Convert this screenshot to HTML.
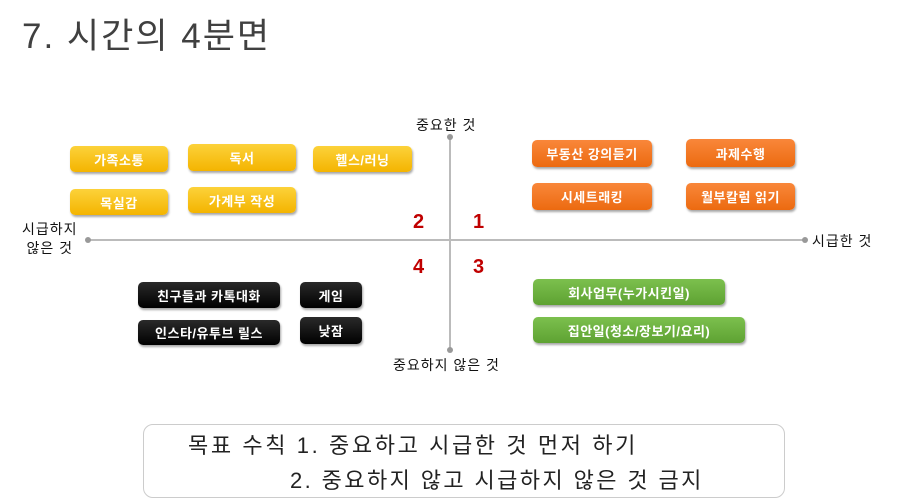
<!DOCTYPE html>
<html><head><meta charset="utf-8"><style>
body{margin:0;width:899px;height:503px;background:#fff;position:relative;overflow:hidden;font-family:"Liberation Sans","Noto Sans CJK KR",sans-serif;}
.a{position:absolute;white-space:nowrap;}
.b{position:absolute;border-radius:5px;color:#fff;font-weight:bold;font-size:13px;letter-spacing:0.5px;display:flex;align-items:center;justify-content:center;box-shadow:1px 2px 2px rgba(0,0,0,0.35);white-space:nowrap;}
.y{background:linear-gradient(#fcd23a,#f4b400);}
.o{background:linear-gradient(#f9873a,#ec6a10);}
.g{background:linear-gradient(#7cc04e,#5ea232);}
.k{background:linear-gradient(#2a2a2a,#000);}
.n{position:absolute;color:#c00000;font-weight:bold;font-size:20px;}
.l{position:absolute;font-size:14px;letter-spacing:1px;color:#111;white-space:nowrap;}
</style></head><body>
<div class="a" style="left:22px;top:8px;font-size:35px;letter-spacing:2px;color:#404040;">7. 시간의 4분면</div>

<div class="a" style="left:449px;top:136px;width:2px;height:215px;background:#bbb"></div>
<div class="a" style="left:88px;top:239px;width:717px;height:2px;background:#bbb"></div>
<div class="a" style="left:447px;top:134px;width:6px;height:6px;border-radius:3px;background:#999"></div>
<div class="a" style="left:447px;top:347px;width:6px;height:6px;border-radius:3px;background:#999"></div>
<div class="a" style="left:85px;top:237px;width:6px;height:6px;border-radius:3px;background:#999"></div>
<div class="a" style="left:802px;top:237px;width:6px;height:6px;border-radius:3px;background:#999"></div>

<div class="l" style="left:416px;top:115px;">중요한 것</div>
<div class="l" style="left:393px;top:355px;">중요하지 않은 것</div>
<div class="l" style="left:812px;top:231px;">시급한 것</div>
<div class="l" style="left:22px;top:220px;line-height:19px;text-align:center;">시급하지<br>않은 것</div>

<div class="n" style="left:413px;top:211px;">2</div>
<div class="n" style="left:473px;top:211px;">1</div>
<div class="n" style="left:413px;top:256px;">4</div>
<div class="n" style="left:473px;top:256px;">3</div>

<div class="b y" style="left:70px;top:146px;width:98px;height:26px;">가족소통</div>
<div class="b y" style="left:188px;top:144px;width:108px;height:27px;">독서</div>
<div class="b y" style="left:313px;top:146px;width:99px;height:26px;">헬스/러닝</div>
<div class="b y" style="left:70px;top:189px;width:98px;height:26px;">목실감</div>
<div class="b y" style="left:188px;top:187px;width:108px;height:26px;">가계부 작성</div>

<div class="b o" style="left:532px;top:140px;width:120px;height:27px;">부동산 강의듣기</div>
<div class="b o" style="left:686px;top:139px;width:109px;height:28px;">과제수행</div>
<div class="b o" style="left:532px;top:183px;width:120px;height:27px;">시세트래킹</div>
<div class="b o" style="left:686px;top:183px;width:109px;height:27px;">월부칼럼 읽기</div>

<div class="b k" style="left:138px;top:282px;width:142px;height:26px;">친구들과 카톡대화</div>
<div class="b k" style="left:300px;top:282px;width:62px;height:26px;">게임</div>
<div class="b k" style="left:138px;top:320px;width:142px;height:25px;">인스타/유투브 릴스</div>
<div class="b k" style="left:300px;top:317px;width:62px;height:27px;">낮잠</div>

<div class="b g" style="left:533px;top:279px;width:192px;height:26px;">회사업무(누가시킨일)</div>
<div class="b g" style="left:533px;top:317px;width:212px;height:26px;">집안일(청소/장보기/요리)</div>

<div class="a" style="left:143px;top:424px;width:640px;height:72px;border:1px solid #ccc;border-radius:10px;"></div>
<div class="a" style="left:188px;top:428px;font-size:22px;letter-spacing:2.6px;color:#222;">목표 수칙 1. 중요하고 시급한 것 먼저 하기</div>
<div class="a" style="left:290px;top:463px;font-size:22px;letter-spacing:2.4px;color:#222;">2. 중요하지 않고 시급하지 않은 것 금지</div>
</body></html>
